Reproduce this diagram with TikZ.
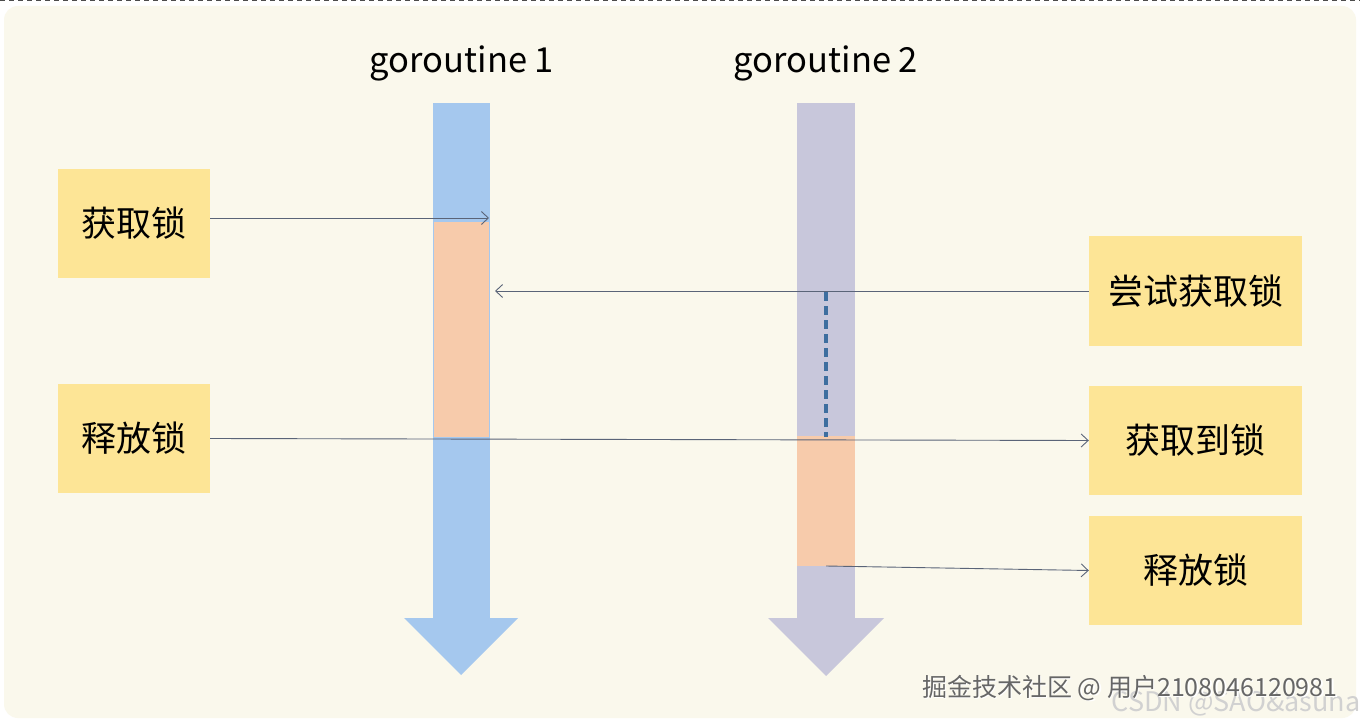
\documentclass[tikz,border=0pt]{standalone}
\usepackage{fontspec}
\setmainfont{Noto Sans CJK SC}
\usetikzlibrary{arrows.meta}
\definecolor{bgc}{HTML}{FAF8EC}
\definecolor{boxy}{HTML}{FDE596}
\definecolor{laneb}{HTML}{A5C8EE}
\definecolor{lanep}{HTML}{C8C7DB}
\definecolor{busy}{HTML}{F7CBAB}
\definecolor{linec}{HTML}{5A6478}
\definecolor{dashc}{HTML}{3E6E9F}
\begin{document}
\begin{tikzpicture}[x=1pt,y=-1pt,
  box/.style={fill=boxy, minimum width=152pt, minimum height=109pt, inner sep=0pt, font=\fontsize{35}{40}\selectfont},
  rbox/.style={box, minimum width=213pt},
  conn/.style={draw=linec, line width=0.9pt, -{Straight Barb[length=7pt,width=13pt]}},
  title/.style={font=\fontsize{34.5}{40}\selectfont, inner sep=0pt}]
\useasboundingbox (0,0) rectangle (1360,722);
\fill[white] (0,0) rectangle (1360,722);
\fill[bgc, rounded corners=14pt] (4,6) rectangle (1356,718);
\draw[black!70, line width=1.5pt, dash pattern=on 5pt off 4pt] (0,0.75) -- (1360,0.75);

% lanes
\fill[laneb] (433,103) rectangle (490,618);
\fill[laneb] (404,618) -- (518,618) -- (461,675) -- cycle;
\fill[lanep] (797,103) rectangle (855,618);
\fill[lanep] (768,618) -- (884,618) -- (826,676) -- cycle;
\fill[busy] (434,222) rectangle (489,437);
\fill[busy] (797,436) rectangle (855,566);

% titles
\node[title] (g1) at (462,63) {goroutine 1};
\node[title] (g2) at (826,63) {goroutine 2};

% boxes
\node[box] (a1) at (134,223.5) {获取锁};
\node[box] (r1) at (134,438.5) {释放锁};
\node[rbox] (t2) at (1195.5,291) {尝试获取锁};
\node[rbox] (a2) at (1195.5,440.5) {获取到锁};
\node[rbox] (r2) at (1195.5,570.5) {释放锁};

% anchor points on lanes
\coordinate (p1) at (489,218);
\coordinate (p2) at (495,291);
\coordinate (w1) at (826,292);
\coordinate (w2) at (826,437);
\coordinate (p3) at (826,566);

% connectors
\draw[conn] (a1.east |- p1) -- (p1);
\draw[conn] (t2.west) -- (p2);
\draw[conn] (r1.east) -- (a2.west);
\draw[conn] (p3) -- (r2.west);
\draw[dashc, line width=3.2pt, dash pattern=on 9pt off 5pt] (w1) -- (w2);

% watermarks
\node[font=\fontsize{27}{30}\selectfont, text=black!18, inner sep=0pt] (wm2) at (1236,704) {CSDN @SAO\&asuna};
\node[font=\fontsize{25}{28}\selectfont, text=white, inner sep=0pt] at (1131.5,689.5) {掘金技术社区 @ 用户2108046120981};
\node[font=\fontsize{25}{28}\selectfont, text=black!60, inner sep=0pt] (wm1) at (1130,688) {掘金技术社区 @ 用户2108046120981};
\end{tikzpicture}
\end{document}
